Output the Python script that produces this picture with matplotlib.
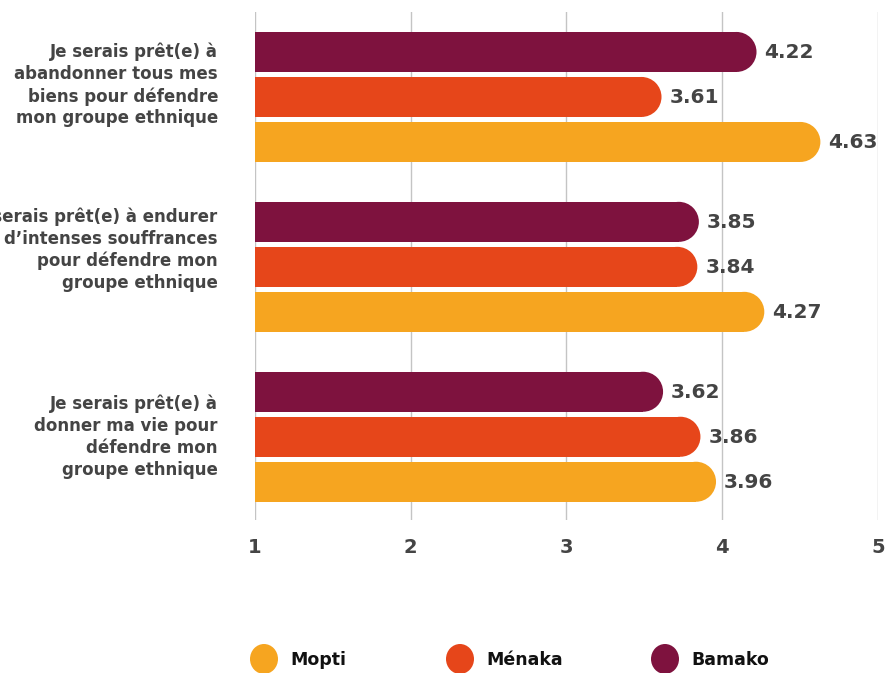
import matplotlib
matplotlib.use("Agg")
import matplotlib.pyplot as plt
from matplotlib.patches import Rectangle, Ellipse
import numpy as np

plt.rcParams['font.family'] = ['DejaVu Sans']

categories = [
    "Je serais prêt(e) à\nabandonner tous mes\nbiens pour défendre\nmon groupe ethnique",
    "Je serais prêt(e) à endurer\nd’intenses souffrances\npour défendre mon\ngroupe ethnique",
    "Je serais prêt(e) à\ndonner ma vie pour\ndéfendre mon\ngroupe ethnique",
]
series_names = ["Bamako", "Ménaka", "Mopti"]
bamako = [4.22, 3.85, 3.62]
menaka = [3.61, 3.84, 3.86]
mopti = [4.63, 4.27, 3.96]
values = [bamako, menaka, mopti]
colors = ["#7E123E", "#E6461A", "#F6A520"]
xticks = [1, 2, 3, 4, 5]

W, H = 886, 673
fig = plt.figure(figsize=(W / 100, H / 100), dpi=100)
ax_l, ax_r, ax_t, ax_b = 255, 878, 12, 520
ax = fig.add_axes([ax_l / W, 1 - ax_b / H, (ax_r - ax_l) / W, (ax_b - ax_t) / H])
ax.set_xlim(1, 5)
ax.set_ylim(2.49, -0.5)

px_per_x = (ax_r - ax_l) / 4.0
px_per_y = (ax_b - ax_t) / 2.99
bar_h = 40 / px_per_y
offsets = [-45 / px_per_y, 0, 45 / px_per_y]
rx = (bar_h * px_per_y / 2) / px_per_x

for s, (vals, col) in enumerate(zip(values, colors)):
    for i, v in enumerate(vals):
        yc = i + offsets[s]
        ax.add_patch(Rectangle((1, yc - bar_h / 2), v - rx - 1, bar_h,
                               facecolor=col, edgecolor='none', zorder=3))
        ax.add_patch(Ellipse((v - rx, yc), 2 * rx, bar_h,
                             facecolor=col, edgecolor='none', zorder=3))
        ax.annotate(f"{v:.2f}", xy=(v, yc), xycoords='data',
                    xytext=(8, -1), textcoords='offset pixels',
                    ha='left', va='center', fontsize=14.5, fontweight='bold',
                    color='#444444', zorder=4, annotation_clip=False)

ax.set_xticks(xticks)
ax.set_xticklabels([str(t) for t in xticks], fontsize=14, fontweight='bold', color='#444444')
ax.tick_params(axis='x', length=0, pad=13)
ax.set_yticks([])
ax.grid(axis='x', color='#c4c4c4', linewidth=1, zorder=0)
for sp in ax.spines.values():
    sp.set_visible(False)

label_dy = [-0.07, -0.1, 0.0]
for i, lab in enumerate(categories):
    ax.annotate(lab, xy=(1, i + label_dy[i]), xycoords='data',
                xytext=(-37, 0), textcoords='offset pixels',
                ha='right', va='center', fontsize=12, fontweight='bold',
                color='#444444', linespacing=1.27, annotation_clip=False)

# legend
lax = fig.add_axes([0, 0, 1, 1])
lax.set_xlim(0, W)
lax.set_ylim(H, 0)
lax.axis('off')
leg_x = [264, 460, 665]
leg_order = ["Mopti", "Ménaka", "Bamako"]
leg_colors = {"Mopti": colors[2], "Ménaka": colors[1], "Bamako": colors[0]}
for x, name in zip(leg_x, leg_order):
    lax.add_patch(Ellipse((x, 659), 28, 30, facecolor=leg_colors[name], edgecolor='none'))
    lax.text(x + 26, 660, name, ha='left', va='center', fontsize=12.5,
             fontweight='bold', color='#111111')

fig.savefig("out.png", dpi=100)
